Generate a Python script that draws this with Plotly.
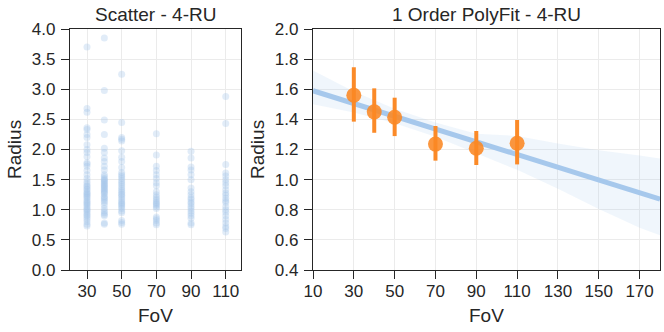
import plotly.graph_objects as go

# raw radius samples per FoV (left panel)
radius_30 = [3.70, 2.68, 2.62, 2.36, 2.33, 2.25, 2.20, 2.08, 2.00, 1.95, 1.88, 1.78,
             1.76, 1.72, 1.65, 1.58, 1.52, 1.47, 1.43, 1.40, 1.38, 1.35, 1.33, 1.30,
             1.28, 1.26, 1.24, 1.22, 1.20, 1.17, 1.14, 1.12, 1.10, 1.08, 1.05, 1.02,
             1.00, 0.98, 0.95, 0.92, 0.90, 0.87, 0.84, 0.80, 0.76, 0.73]
radius_40 = [3.85, 2.98, 2.49, 2.25, 2.02, 1.95, 1.86, 1.80, 1.72, 1.66, 1.58, 1.55,
             1.52, 1.50, 1.48, 1.46, 1.44, 1.42, 1.40, 1.38, 1.36, 1.34, 1.32, 1.30,
             1.28, 1.26, 1.22, 1.20, 1.18, 1.15, 1.12, 1.08, 1.02, 0.98, 0.95, 0.92,
             0.90, 0.78, 0.76]
radius_50 = [3.25, 2.45, 2.20, 2.17, 2.14, 1.98, 1.87, 1.80, 1.70, 1.62, 1.58, 1.55,
             1.52, 1.48, 1.45, 1.42, 1.38, 1.35, 1.32, 1.29, 1.26, 1.24, 1.21, 1.18,
             1.15, 1.12, 1.10, 1.08, 1.05, 1.02, 0.98, 0.95, 0.82, 0.79, 0.76]
radius_70 = [2.26, 1.91, 1.72, 1.65, 1.58, 1.52, 1.45, 1.40, 1.30, 1.25, 1.21, 1.18,
             1.15, 1.12, 1.10, 1.08, 1.05, 1.02, 0.88, 0.85, 0.82, 0.78, 0.75]
radius_90 = [1.97, 1.86, 1.71, 1.66, 1.58, 1.50, 1.36, 1.30, 1.25, 1.20, 1.17, 1.13,
             1.10, 1.06, 1.02, 0.98, 0.94, 0.90, 0.86, 0.78, 0.75]
radius_110 = [2.88, 2.43, 1.75, 1.61, 1.56, 1.50, 1.45, 1.40, 1.33, 1.28, 1.24, 1.19,
              1.15, 1.12, 1.05, 1.00, 0.96, 0.90, 0.84, 0.78, 0.72, 0.69, 0.63]

# binned means with CI (right panel)
fov_levels = [30, 40, 50, 70, 90, 110]
mean_radius = [1.56, 1.45, 1.414, 1.236, 1.208, 1.241]
ci_high = [1.746, 1.606, 1.544, 1.356, 1.323, 1.396]
ci_low = [1.385, 1.311, 1.289, 1.126, 1.097, 1.101]

# linear fit and its confidence band
fit_fov = [10, 30, 50, 70, 90, 110, 130, 150, 170, 180]
fit_radius = [1.59, 1.505, 1.42, 1.336, 1.251, 1.166, 1.081, 0.997, 0.912, 0.87]
band_upper = [1.725, 1.585, 1.47, 1.38, 1.305, 1.29, 1.24, 1.195, 1.16, 1.14]
band_lower = [1.50, 1.445, 1.375, 1.285, 1.175, 1.065, 0.94, 0.805, 0.68, 0.63]

text_color = "#262626"
grid_color = "#ebebeb"
font_family = "Liberation Sans, Arial, sans-serif"

W, H = 664, 332
TOP, BOTTOM = 29, 270  # plot area in px


def px_x(x):
    return x / W


def px_y(y):
    return (BOTTOM - y) / (BOTTOM - TOP)


fig = go.Figure()

samples = {30: radius_30, 40: radius_40, 50: radius_50,
           70: radius_70, 90: radius_90, 110: radius_110}
for fov, vals in samples.items():
    fig.add_trace(go.Scatter(
        x=[fov] * len(vals), y=vals, mode="markers",
        marker=dict(color="rgba(161,196,234,0.32)", size=7),
        xaxis="x", yaxis="y", showlegend=False, hoverinfo="x+y"
    ))

# CI band
fig.add_trace(go.Scatter(
    x=fit_fov, y=band_lower, mode="lines", line=dict(width=0),
    xaxis="x2", yaxis="y2", showlegend=False, hoverinfo="skip"
))
fig.add_trace(go.Scatter(
    x=fit_fov, y=band_upper, mode="lines", line=dict(width=0),
    fill="tonexty", fillcolor="rgba(164,198,234,0.16)",
    xaxis="x2", yaxis="y2", showlegend=False, hoverinfo="skip"
))
fig.add_trace(go.Scatter(
    x=fit_fov, y=fit_radius, mode="lines",
    line=dict(color="#a6c8ec", width=5),
    xaxis="x2", yaxis="y2", showlegend=False
))

fig.add_trace(go.Scatter(
    x=fov_levels, y=mean_radius, mode="markers",
    marker=dict(color="rgba(250,135,35,0.88)", size=15),
    error_y=dict(
        type="data", symmetric=False,
        array=[h - m for h, m in zip(ci_high, mean_radius)],
        arrayminus=[m - l for m, l in zip(mean_radius, ci_low)],
        color="#fb8a28", thickness=4, width=0
    ),
    xaxis="x2", yaxis="y2", showlegend=False
))

axis_common = dict(
    showline=True, linecolor=text_color, linewidth=1.3, mirror=True,
    ticks="outside", ticklen=8, tickwidth=1.3, tickcolor=text_color,
    showgrid=True, gridcolor=grid_color, gridwidth=1, zeroline=False,
    tickfont=dict(size=17, color=text_color), automargin=False,
)
x_common = dict(ticklabelstandoff=-3, **axis_common)
y_common = dict(ticklabelstandoff=2, **axis_common)

title_font = dict(size=19, color=text_color)


def label(text, x, y, angle=0):
    return dict(text=text, x=px_x(x), y=px_y(y), xref="paper", yref="paper",
                xanchor="center", yanchor="middle", textangle=angle,
                showarrow=False, font=title_font)


fig.update_layout(
    width=W, height=H,
    margin=dict(l=0, r=0, t=TOP, b=H - BOTTOM),
    plot_bgcolor="white", paper_bgcolor="white",
    font=dict(family=font_family, color=text_color),
    xaxis=dict(domain=[px_x(70), px_x(241)], range=[20.2, 118.8],
               tickvals=[30, 50, 70, 90, 110], anchor="y", **x_common),
    yaxis=dict(range=[0, 4], dtick=0.5, tickformat=".1f", anchor="x", **y_common),
    xaxis2=dict(domain=[px_x(313), px_x(660)], range=[10, 180],
                tickvals=list(range(10, 171, 20)), anchor="y2", **x_common),
    yaxis2=dict(range=[0.4, 2.0], dtick=0.2, tickformat=".1f", anchor="x2", **y_common),
    annotations=[
        label("Scatter - 4-RU", 155.5, 14),
        label("1 Order PolyFit - 4-RU", 486.5, 14),
        label("FoV", 155.5, 315),
        label("FoV", 486.5, 315),
        label("Radius", 14, 150, -90),
        label("Radius", 257, 150, -90),
    ],
)

# drop the default page margin so the 664x332 figure sits at the window origin
fig.write_html("out.html", config={"displayModeBar": False},
               post_script="document.body.style.margin='0';")
